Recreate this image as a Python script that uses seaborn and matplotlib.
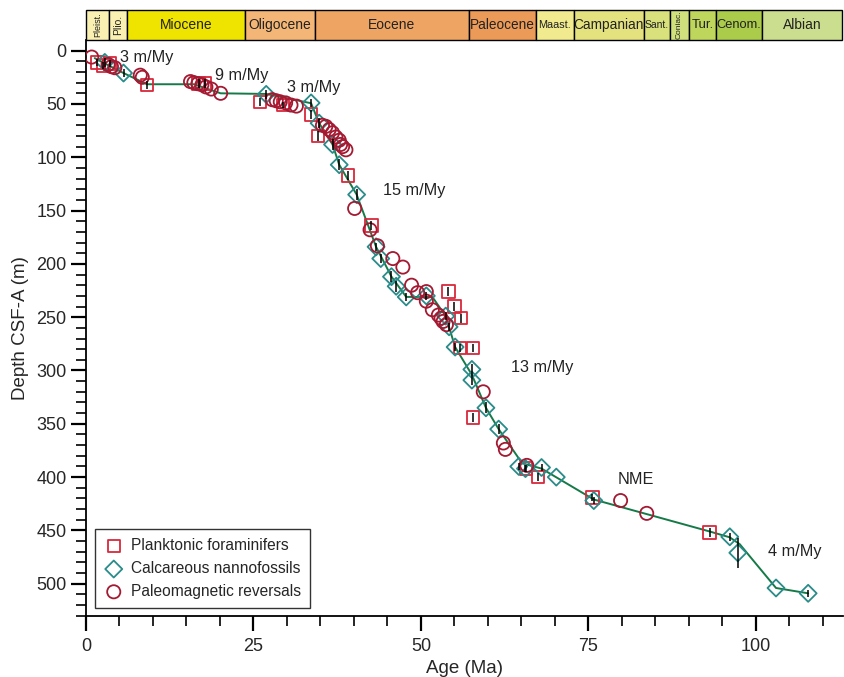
import numpy as np
import pandas as pd
import matplotlib
matplotlib.use("Agg")
import matplotlib.pyplot as plt
import seaborn as sns
from matplotlib.patches import Rectangle

# ---------------- data ----------------
pf_age = [1.7, 2.6, 3.6, 9.1, 16.8, 17.8, 26.0, 29.4, 33.6, 34.6, 39.1, 42.6, 54.1, 55.0,
          56.0, 55.8, 57.8, 57.8, 65.7, 67.5, 75.6, 93.1]
pf_depth = [11, 14, 12, 32, 31, 31, 48, 51, 60, 80, 117, 164, 226, 240,
            251, 279, 279, 344, 392, 400, 419, 452]
pf_err = [3, 3, 3, 4, 4, 4, 4, 3, 4, 5, 4, 4, 4, 4, 4, 4, 4, 4, 3, 4, 3, 4]

cn_age = [2.8, 5.6, 26.9, 33.6, 34.8, 36.8, 37.8, 40.4, 43.3, 44.0, 45.6, 46.3, 47.8, 50.8,
          53.7, 54.2, 55.1, 57.6, 57.6, 59.7, 61.6, 64.6, 65.6, 68.0, 70.2, 75.8, 96.1,
          97.3, 103.0, 107.8]
cn_depth = [11, 21, 41, 49, 68, 88, 107, 135, 184, 195, 212, 221, 231, 230,
            249, 259, 278, 299, 309, 335, 355, 390, 392, 391, 400, 422, 456,
            471, 504, 509]
cn_err = [4, 4, 4, 4, 5, 5, 5, 5, 4, 4, 5, 5, 4, 4,
          4, 4, 4, 5, 5, 5, 5, 3, 3, 3, 0, 3, 4,
          14, 0, 3]

pm_age = [0.85, 3.3, 3.8, 4.3, 8.1, 8.4, 15.6, 16.1, 16.7, 17.3, 17.9, 18.7, 20.1,
          27.8, 28.4, 29.0, 29.8, 30.6, 31.4, 35.3, 35.8, 36.3, 36.8, 37.3, 37.8, 38.0,
          38.3, 38.8, 40.1, 42.4, 43.5, 45.8, 47.3, 48.6, 49.5, 50.8, 50.8, 51.7, 52.6,
          53.0, 53.3, 53.8, 59.3, 62.3, 62.6, 65.8, 79.8, 83.7]
pm_depth = [6, 13, 15, 16, 23, 25, 29, 30, 31, 32, 34, 36, 40,
            46, 47, 48, 49, 51, 52, 70, 71, 74, 77, 81, 84, 88,
            90, 93, 148, 168, 183, 195, 203, 220, 227, 226, 235, 243, 248,
            251, 254, 257, 320, 368, 374, 389, 422, 434]

model_age = [1.3, 2.8, 5.6, 9.1, 16.1, 20.1, 26.9, 33.6, 34.8, 36.8, 37.8, 40.4, 43.3,
             45.6, 47.8, 51.7, 53.7, 55.1, 57.6, 59.7, 61.6, 65.1, 68.0, 75.8, 93.1,
             96.1, 97.6, 103.0, 107.8]
model_depth = [7, 12, 21, 31.5, 31.5, 40, 40.6, 49.3, 68, 88, 107, 135, 184,
               212, 231, 231, 249, 278, 304, 335, 355, 387, 392, 421, 451,
               456.5, 463, 504, 509]

rate_labels = ["3 m/My", "9 m/My", "3 m/My", "15 m/My", "13 m/My", "NME", "4 m/My"]
rate_age = [5.1, 19.3, 30.0, 44.3, 63.4, 79.3, 101.8]
rate_depth = [6, 23, 35, 131, 297, 402, 470]

epoch_names = ["Pleist.", "Plio.", "Miocene", "Oligocene", "Eocene", "Paleocene", "Maast.",
               "Campanian", "Sant.", "Coniac.", "Tur.", "Cenom.", "Albian"]
epoch_start = [0.0, 3.5, 6.1, 23.7, 34.2, 57.1, 67.1, 72.8, 83.3, 87.2, 90.0, 94.1, 100.9]
epoch_end = [3.5, 6.1, 23.7, 34.2, 57.1, 67.1, 72.8, 83.3, 87.2, 90.0, 94.1, 100.9, 112.8]
epoch_colors = ["#faf0b2", "#faf0b2", "#efe400", "#f4b677", "#eea463", "#eb9a57", "#f1ea8e",
                "#e4e17f", "#d8e17b", "#cfe07c", "#bfd65c", "#abcb4b", "#cbdd8e"]
epoch_fs = [6.5, 7.5, 10, 10, 10, 9.8, 7.8, 9.8, 7.5, 6, 9.5, 9.3, 10]
epoch_rot = [90, 90, 0, 0, 0, 0, 0, 0, 0, 90, 0, 0, 0]

# ---------------- style ----------------
sns.set_style("ticks")
plt.rcParams["font.family"] = ["Liberation Sans", "DejaVu Sans"]
plt.rcParams["font.size"] = 12

W, H = 845, 677
fig = plt.figure(figsize=(W / 100, H / 100), dpi=100)
left, right = 86 / W, 843 / W
top_px, bot_px = 40, 615.7
ax = fig.add_axes([left, 1 - bot_px / H, right - left, (bot_px - top_px) / H])
band = fig.add_axes([left, 1 - top_px / H, right - left, 30 / H])

pf_col = "#d8283c"
cn_col = "#2a8c8a"
pm_col = "#a31a32"
line_col = "#157a48"

model = pd.DataFrame({"age": model_age, "depth": model_depth})
sns.lineplot(data=model, x="age", y="depth", sort=False, color=line_col, lw=1.4,
             ax=ax, zorder=2, estimator=None)

pf = pd.DataFrame({"age": pf_age, "depth": pf_depth, "err": pf_err})
cn = pd.DataFrame({"age": cn_age, "depth": cn_depth, "err": cn_err})
pm = pd.DataFrame({"age": pm_age, "depth": pm_depth})

for d in (pf, cn):
    sub = d[d["err"] > 0]
    ax.vlines(sub["age"], sub["depth"] - sub["err"], sub["depth"] + sub["err"],
              color="black", lw=1.1, zorder=4)

sns.scatterplot(data=pf, x="age", y="depth", marker="s", s=80, facecolor="none",
                edgecolor=pf_col, linewidth=1.3, ax=ax, zorder=3,
                label="Planktonic foraminifers")
sns.scatterplot(data=cn, x="age", y="depth", marker="D", s=75, facecolor="none",
                edgecolor=cn_col, linewidth=1.3, ax=ax, zorder=3,
                label="Calcareous nannofossils")
sns.scatterplot(data=pm, x="age", y="depth", marker="o", s=90, facecolor="none",
                edgecolor=pm_col, linewidth=1.3, ax=ax, zorder=3,
                label="Paleomagnetic reversals")

for t, xa, yd in zip(rate_labels, rate_age, rate_depth):
    ax.text(xa, yd, t, ha="left", va="center", fontsize=11.7, color="#222222")

ax.set_xlim(0, 113)
ax.set_ylim(530, -10)
ax.set_xticks([0, 25, 50, 75, 100])
ax.set_xticks(np.arange(0, 114, 5), minor=True)
ax.set_yticks(np.arange(0, 501, 50))
ax.set_yticks(np.arange(0, 531, 10), minor=True)
ax.tick_params(axis="both", which="major", length=11, width=1.6, labelsize=13,
               color="black", direction="out")
ax.tick_params(axis="both", which="minor", length=7, width=1.2, color="black",
               direction="out")
ax.tick_params(axis="y", pad=3)
ax.tick_params(axis="x", pad=5)
ax.set_xlabel("Age (Ma)", fontsize=13.5, labelpad=4)
ax.set_ylabel("Depth CSF-A (m)", fontsize=13.5, labelpad=5)
for s in ["top", "right"]:
    ax.spines[s].set_visible(False)
for s in ["left", "bottom"]:
    ax.spines[s].set_linewidth(1.3)
    ax.spines[s].set_color("black")

leg = ax.legend(loc="lower left", bbox_to_anchor=(0.012, 0.013), borderaxespad=0,
                frameon=True, fancybox=False, edgecolor="black", fontsize=11.2,
                handletextpad=0.5, borderpad=0.6, labelspacing=0.5, handlelength=1.2)
leg.get_frame().set_linewidth(1.0)

# epoch band
band.set_xlim(0, 113)
band.set_ylim(0, 1)
band.axis("off")
for n, a0, a1, c, fs, rot in zip(epoch_names, epoch_start, epoch_end, epoch_colors,
                                 epoch_fs, epoch_rot):
    band.add_patch(Rectangle((a0, 0), a1 - a0, 1, facecolor=c, edgecolor="black",
                             lw=1.0, clip_on=False))
    band.text((a0 + a1) / 2, 0.5, n, ha="center", va="center", fontsize=fs,
              rotation=rot, color="#222222")

fig.savefig("out.png", dpi=100)
